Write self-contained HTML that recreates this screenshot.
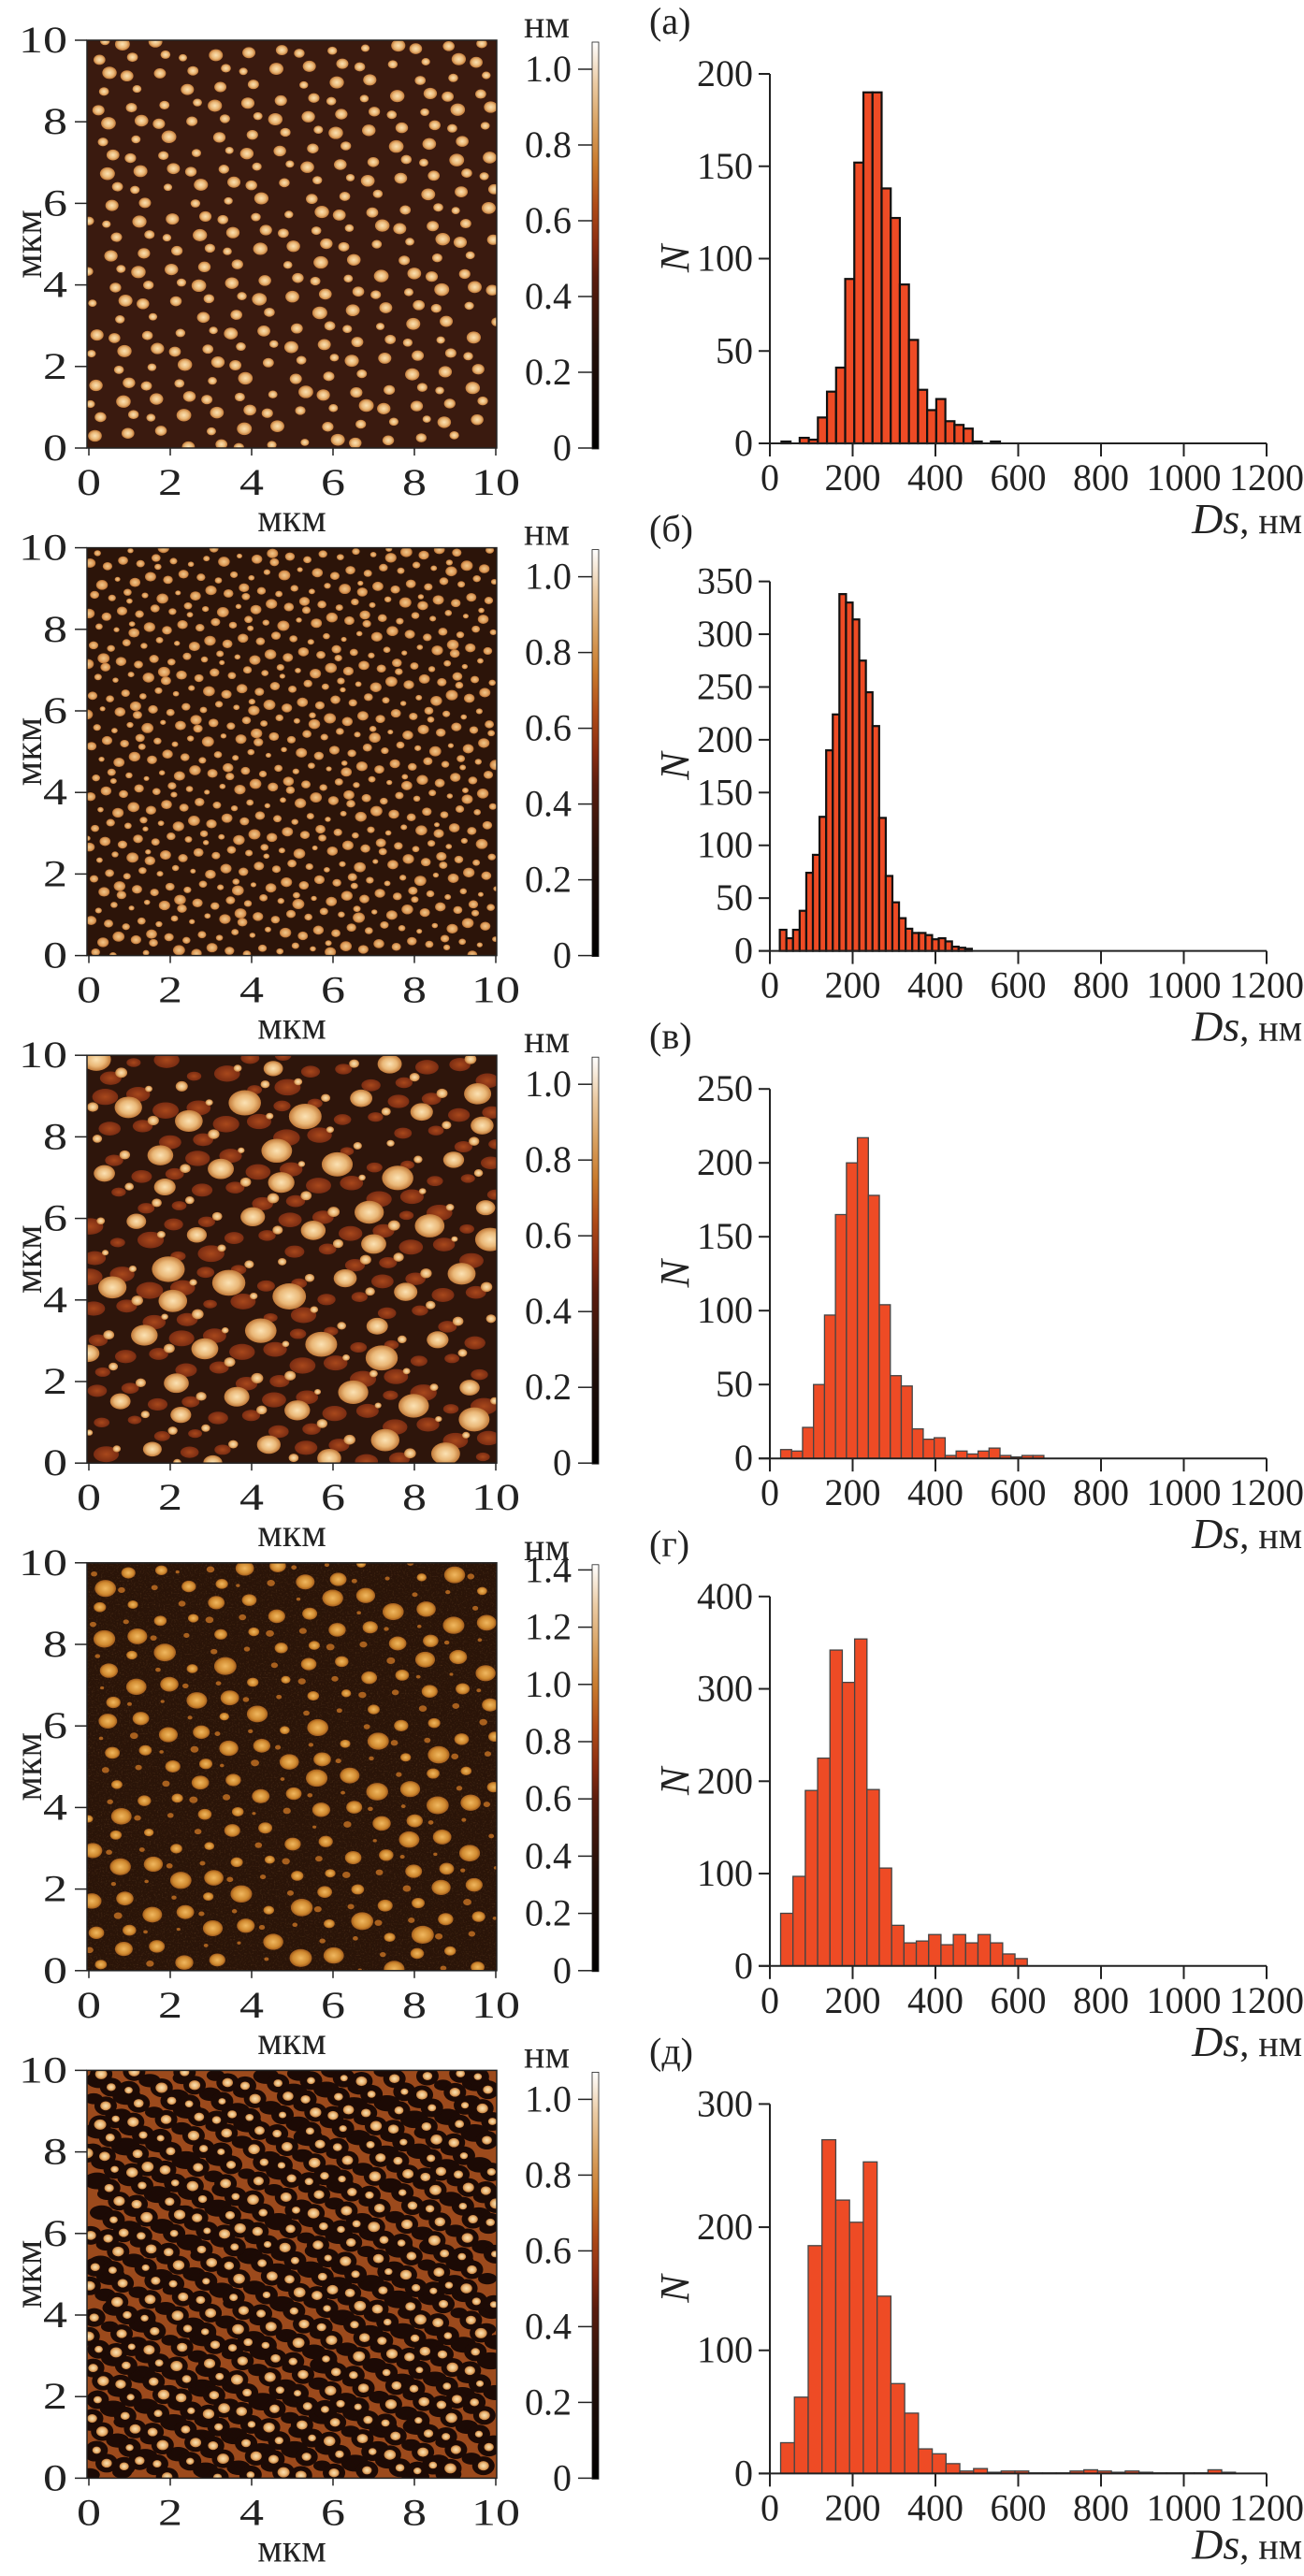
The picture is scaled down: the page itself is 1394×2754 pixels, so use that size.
<!DOCTYPE html>
<html><head><meta charset="utf-8">
<style>
html,body{margin:0;padding:0;background:#fff;}
svg{display:block;font-family:"Liberation Serif",serif;}
</style></head>
<body>
<svg id="fig" xmlns="http://www.w3.org/2000/svg" width="1394" height="2754" viewBox="0 0 1394 2754">
<defs>
<linearGradient id="cbar" x1="0" y1="1" x2="0" y2="0">
<stop offset="0" stop-color="#000"/><stop offset="0.25" stop-color="#24100a"/>
<stop offset="0.42" stop-color="#5a1c0e"/><stop offset="0.5" stop-color="#8a2c10"/>
<stop offset="0.6" stop-color="#b04c18"/><stop offset="0.7" stop-color="#c97a2c"/>
<stop offset="0.8" stop-color="#d9a262"/><stop offset="0.9" stop-color="#ebcba4"/>
<stop offset="1" stop-color="#ffffff"/></linearGradient>
<radialGradient id="dotA"><stop offset="0" stop-color="#fbe2b4"/><stop offset="0.6" stop-color="#eab878"/><stop offset="1" stop-color="#c07838"/></radialGradient>
<radialGradient id="dotB"><stop offset="0" stop-color="#f2c88c"/><stop offset="0.7" stop-color="#dc9a58"/><stop offset="1" stop-color="#b06a30"/></radialGradient>
<radialGradient id="dotR"><stop offset="0" stop-color="#a8481c"/><stop offset="1" stop-color="#7a2c12"/></radialGradient>
<radialGradient id="dotD"><stop offset="0" stop-color="#f0b860"/><stop offset="0.7" stop-color="#d08a30"/><stop offset="1" stop-color="#a05a1c"/></radialGradient>
<filter id="grain" x="0" y="0" width="1" height="1">
<feTurbulence type="fractalNoise" baseFrequency="0.6" numOctaves="2" seed="3"/>
<feColorMatrix values="0 0 0 0 0.7  0 0 0 0 0.35  0 0 0 0 0.12  0 0 0 1.6 -0.85"/>
</filter>
</defs>
</svg>
<script>
// ---- histogram data (bin left edges start, bin width, counts) ----
const panelLetters = ["(а)","(б)","(в)","(г)","(д)"];
const binStart = [28, 24, 26, 26, 26];
const binWidth = [22, 16, 26.5, 29.8, 33.3];
const countsA = [1,0,3,2,14,28,41,89,152,190,190,138,122,86,56,29,18,24,12,10,8,1,0,1];
const countsB = [20,12,20,38,74,91,127,190,224,338,330,314,275,245,213,126,71,46,31,21,17,17,15,11,12,9,4,3,2];
const countsC = [6,5,21,50,97,165,200,217,178,104,56,49,20,13,14,2,5,3,5,7,2,1,2,2];
const countsD = [57,97,190,225,342,307,354,191,106,44,25,27,34,23,34,25,34,25,13,8];
const countsE = [25,62,185,271,222,204,253,144,73,49,20,16,8,2,4,1,2,2,0.5,0.5,0.5,2,3,2,1,2,1,0.5,0.5,0.5,0.5,3,1];
const yMax = [200, 350, 250, 400, 300];
const yStep = [50, 50, 50, 100, 100];
const xTicks = [0,200,400,600,800,1000,1200];
const afmTicks = [0,2,4,6,8,10];
const cbarMax = [1.0,1.0,1.0,1.4,1.0];
const allCounts = [countsA,countsB,countsC,countsD,countsE];

const NS="http://www.w3.org/2000/svg";
const svg=document.getElementById('fig');
function mk(tag,attrs,parent){const e=document.createElementNS(NS,tag);for(const k in attrs)e.setAttribute(k,attrs[k]);(parent||svg).appendChild(e);return e;}
function txt(s,attrs,parent){const e=mk('text',attrs,parent);e.textContent=s;return e;}
function fr(v){return v-Math.floor(v);}

const DY=542.6;
for(let k=0;k<5;k++){
  const dy=k*DY;
  const g=mk('g',{});
  
  
  const X0=93,X1=531,Y0=43+dy,Y1=479+dy,W=X1-X0,H=Y1-Y0;
  const cp=mk('clipPath',{id:'clip'+k},g);
  mk('rect',{x:X0,y:Y0,width:W,height:H},cp);
  const bgc=['#3a1a0f','#2c1409','#2e150b','#2a1408','#9c4a1c'][k];
  const img=mk('g',{'clip-path':'url(#clip'+k+')'},g);
  
  
  mk('rect',{x:X0,y:Y0,width:W,height:H,fill:bgc},img);
  const R2a=0.7548776662,R2b=0.5698402910;
  function pt(i,o){return [X0+fr(o+i*R2a)*W, Y0+fr(o*1.7+i*R2b)*H, fr(i*0.618034+o)];}
  if(k===0){
    for(let i=0;i<330;i++){const [x,y,s]=pt(i,0.3);const r=4.5+s*3.5;mk('ellipse',{cx:x,cy:y,rx:r,ry:r*0.85,fill:'url(#dotA)'},img);}
  } else if(k===1){
    for(let i=0;i<680;i++){const [x,y,s]=pt(i,0.11);const r=3+s*3.5;mk('ellipse',{cx:x,cy:y,rx:r,ry:r*0.85,fill:'url(#dotB)'},img);}
  } else if(k===2){
    for(let i=0;i<170;i++){const [x,y,s]=pt(i,0.47);const r=6+s*6;mk('ellipse',{cx:x,cy:y,rx:r*1.2,ry:r*0.75,fill:'url(#dotR)'},img);}
    for(let i=0;i<130;i++){const [x,y,s]=pt(i,0.83);const r=3.5+s*3;mk('ellipse',{cx:x,cy:y,rx:r,ry:r*0.85,fill:'url(#dotA)'},img);}
    for(let i=0;i<60;i++){const [x,y,s]=pt(i,0.19);const r=10+s*8;mk('ellipse',{cx:x,cy:y,rx:r,ry:r*0.78,fill:'url(#dotA)'},img);}
  } else if(k===3){
    mk('rect',{x:X0,y:Y0,width:W,height:H,filter:'url(#grain)',opacity:0.3},img);
    for(let i=0;i<300;i++){const [x,y,s]=pt(i,0.61);const r=2+s*2.5;mk('ellipse',{cx:x,cy:y,rx:r,ry:r*0.8,fill:'#a8601e'},img);}
    for(let i=0;i<170;i++){const [x,y,s]=pt(i,0.29);const r=5+s*7;mk('ellipse',{cx:x,cy:y,rx:r,ry:r*0.8,fill:'url(#dotD)'},img);}
  } else {
    for(let i=0;i<260;i++){const [x,y,s]=pt(i,0.52);const r=7+s*5;mk('ellipse',{cx:x,cy:y,rx:r*1.3,ry:r*0.8,fill:'#1c0a05'},img);}
    for(let i=0;i<370;i++){const [x,y,s]=pt(i,0.07);mk('ellipse',{cx:x,cy:y,rx:12,ry:10,fill:'#1c0a05'},img);}
    for(let i=0;i<370;i++){const [x,y,s]=pt(i,0.07);const r=4+s*2.5;mk('ellipse',{cx:x,cy:y,rx:r,ry:r*0.85,fill:'url(#dotA)'},img);}
  }
  mk('rect',{x:X0,y:Y0,width:W,height:H,fill:'none',stroke:'#222','stroke-width':1.5},g);
  afmTicks.forEach(v=>{
    const y=Y1-v/10*H, x=95+v/10*435;
    mk('line',{x1:80,x2:X0,y1:y,y2:y,stroke:'#222','stroke-width':1.5},g);
    const ty=txt(String(v),{transform:'translate(72,'+(y+13)+') scale(1.3,1)','text-anchor':'end','font-size':40,fill:'#222'},g);
    
    
    mk('line',{x1:x,x2:x,y1:Y1,y2:Y1+8,stroke:'#222','stroke-width':1.5},g);
    const tx=txt(String(v),{transform:'translate('+x+','+(529+dy)+') scale(1.3,1)','text-anchor':'middle','font-size':40,fill:'#222'},g);
    
    
  });
  const yl=txt('мкм',{transform:'translate(44,'+(261+dy)+') rotate(-90)','text-anchor':'middle','font-size':42,fill:'#222'},g);
  
  
  const xl=txt('мкм',{x:312,y:568+dy,'text-anchor':'middle','font-size':42,fill:'#222'},g);
  
  
  const cb=mk('rect',{x:633,y:45+dy,width:7,height:435,fill:'url(#cbar)',stroke:'#222','stroke-width':0.8},g);
  
  
  const cm=cbarMax[k], per=(k===3)?306:405;
  for(let v=0;v<=cm+1e-6;v+=0.2){
    const y=479+dy-v*per;
    mk('line',{x1:618,x2:633,y1:y,y2:y,stroke:'#222','stroke-width':1.5},g);
    const lab=(v<1e-6)?'0':v.toFixed(1);
    const t=txt(lab,{x:611,y:y+13,'text-anchor':'end','font-size':40,fill:'#222'},g);
    
    
  }
  const nm=txt('нм',{x:560,y:40+dy,'font-size':42,fill:'#222'},g);
  
  

  const h=mk('g',{});
  
  
  const hy0=474+dy, htop=79+dy, mx=yMax[k];
  const xs=v=>823+v*(531/1200);
  const ys=v=>hy0-v*((hy0-htop)/mx);
  const thick=k<2;
  allCounts[k].forEach((c,i)=>{
    const l=binStart[k]+i*binWidth[k];
    const b=mk('rect',{x:xs(l),y:ys(c),width:xs(l+binWidth[k])-xs(l),height:hy0-ys(c),fill:'#ee4b25',stroke:thick?'#111':'#444','stroke-width':thick?2.2:1.3},h);
    
    
  });
  mk('line',{x1:823,x2:823,y1:htop,y2:hy0,stroke:'#222','stroke-width':2},h);
  mk('line',{x1:811,x2:1354,y1:hy0,y2:hy0,stroke:'#222','stroke-width':2},h);
  for(let v=0;v<=mx;v+=yStep[k]){
    const y=ys(v);
    mk('line',{x1:811,x2:823,y1:y,y2:y,stroke:'#222','stroke-width':2},h);
    const t=txt(String(v),{x:805,y:y+13,'text-anchor':'end','font-size':40,fill:'#222'},h);
    
    
  }
  xTicks.forEach(v=>{
    const x=xs(v);
    mk('line',{x1:x,x2:x,y1:hy0,y2:hy0+14,stroke:'#222','stroke-width':2},h);
    const t=txt(String(v),{x:x,y:hy0+50,'text-anchor':'middle','font-size':40,fill:'#222'},h);
    
    
  });
  const nl=txt('N',{transform:'translate(736,'+((htop+hy0)/2)+') rotate(-90)','text-anchor':'middle','font-size':44,'font-style':'italic',fill:'#222'},h);
  
  
  const pl=txt(panelLetters[k],{x:694,y:36+dy,'font-size':40,fill:'#222'},h);
  
  
  const dl=mk('text',{x:1392,y:hy0+(k===4?91:96),'text-anchor':'end',fill:'#222'},h);
  
  
  const t1=mk('tspan',{'font-style':'italic','font-size':46},dl);t1.textContent='Ds';
  const t2=mk('tspan',{'font-size':40},dl);t2.textContent=', нм';
}
</script>
</body></html>
